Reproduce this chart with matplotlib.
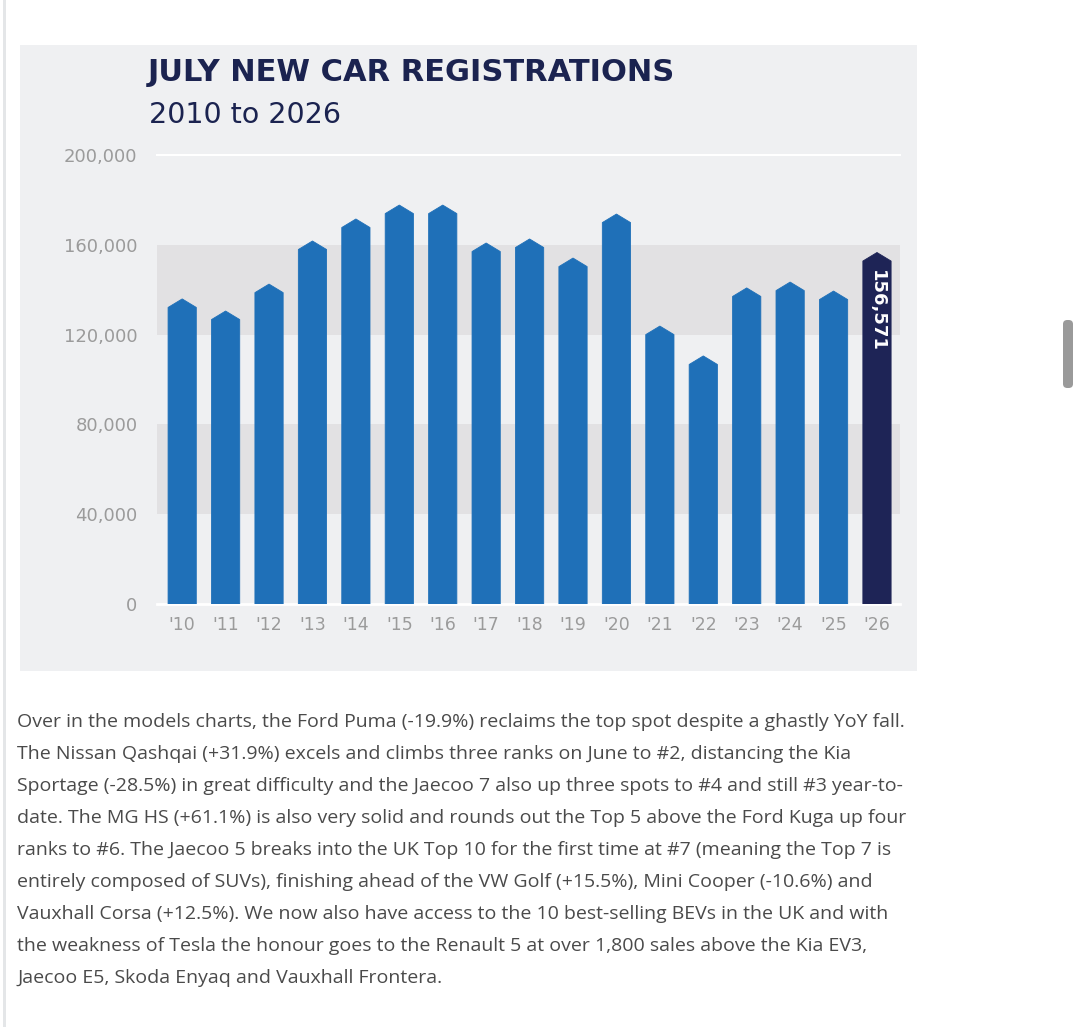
import matplotlib
matplotlib.use("Agg")
import matplotlib.pyplot as plt
from matplotlib.patches import Polygon, Rectangle, FancyBboxPatch

# data
years = ["'10", "'11", "'12", "'13", "'14", "'15", "'16", "'17", "'18",
         "'19", "'20", "'21", "'22", "'23", "'24", "'25", "'26"]
registrations = [135900, 130500, 142500, 161700, 171500, 177700, 177700, 160800, 162600,
                 154100, 173700, 123800, 110500, 140800, 143400, 139400, 156571]
highlight_label = "156,571"
yticks = [0, 40000, 80000, 120000, 160000, 200000]
bands = [(40000, 80000), (120000, 160000)]

paragraph = [
    "Over in the models charts, the Ford Puma (-19.9%) reclaims the top spot despite a ghastly YoY fall.",
    "The Nissan Qashqai (+31.9%) excels and climbs three ranks on June to #2, distancing the Kia",
    "Sportage (-28.5%) in great difficulty and the Jaecoo 7 also up three spots to #4 and still #3 year-to-",
    "date. The MG HS (+61.1%) is also very solid and rounds out the Top 5 above the Ford Kuga up four",
    "ranks to #6. The Jaecoo 5 breaks into the UK Top 10 for the first time at #7 (meaning the Top 7 is",
    "entirely composed of SUVs), finishing ahead of the VW Golf (+15.5%), Mini Cooper (-10.6%) and",
    "Vauxhall Corsa (+12.5%). We now also have access to the 10 best-selling BEVs in the UK and with",
    "the weakness of Tesla the honour goes to the Renault 5 at over 1,800 sales above the Kia EV3,",
    "Jaecoo E5, Skoda Enyaq and Vauxhall Frontera.",
]

W, H = 1084, 1027
NAVY = "#1b2350"
BLUE = "#1f70b8"
DARK = "#1e2456"
PANEL = "#eff0f2"
BAND = "#e2e1e3"
GREY = "#9b9b9b"


def fx(px):
    return px / W


def fy(py):
    return 1 - py / H


fig = plt.figure(figsize=(W / 100, H / 100), dpi=100)
fig.patch.set_facecolor("white")

# page edge + chart panel + scrollbar (kept behind the axes)
fig.patches.append(Rectangle((fx(3), 0), fx(3), 1, transform=fig.transFigure,
                             facecolor="#e4e6e8", edgecolor="none", zorder=-10))
fig.patches.append(Rectangle((fx(20), fy(671)), fx(897), 626 / H, transform=fig.transFigure,
                             facecolor=PANEL, edgecolor="none", zorder=-10))
fig.patches.append(FancyBboxPatch((fx(1063), fy(388)), fx(10), 68 / H,
                                  boxstyle="round,pad=0,rounding_size=0.004",
                                  transform=fig.transFigure, facecolor="#9a9a9a",
                                  edgecolor="none", zorder=-10))

ax = fig.add_axes([fx(157), fy(604), fx(743), 449 / H])
ax.set_facecolor("none")
for s in ax.spines.values():
    s.set_visible(False)

n = len(registrations)
ax.set_xlim(-0.58, n - 1 + 0.53)
ax.set_ylim(0, 200000)

for lo, hi in bands:
    ax.axhspan(lo, hi, color=BAND, zorder=0, lw=0)
ax.axhline(200000, color="white", lw=1.5, zorder=1, clip_on=False)
ax.axhline(0, color="white", lw=2, zorder=1, clip_on=False)

half = 0.325
tip = 3800
for i, v in enumerate(registrations):
    col = DARK if i == n - 1 else BLUE
    verts = [(i - half, 0), (i + half, 0), (i + half, v - tip), (i, v), (i - half, v - tip)]
    ax.add_patch(Polygon(verts, closed=True, facecolor=col, edgecolor=col,
                         lw=0.6, joinstyle="round", zorder=2))

ax.text(n - 1, registrations[-1] - 8000, highlight_label, rotation=-90,
        ha="center", va="top", color="white", fontsize=13, fontweight="bold", zorder=3)

ax.set_yticks(yticks)
ax.set_yticklabels([f"{t:,}" for t in yticks])
ax.set_xticks(range(n))
ax.set_xticklabels(years)
ax.tick_params(axis="y", length=0, pad=14, labelsize=13, labelcolor=GREY)
ax.tick_params(axis="x", length=0, pad=9, labelsize=12.5, labelcolor=GREY)

fig.text(fx(148), fy(81), "JULY NEW CAR REGISTRATIONS", fontsize=22,
         fontweight="heavy", color=NAVY, va="baseline", ha="left")
fig.text(fx(149), fy(123), "2010 to 2026", fontsize=20.5, color=NAVY,
         va="baseline", ha="left")

for k, line in enumerate(paragraph):
    fig.text(fx(17), fy(727 + 32 * k), line, fontsize=14.0, family="Open Sans",
             color="#4a4a4a", va="baseline", ha="left")

fig.savefig("out.png", dpi=100, facecolor="white")
